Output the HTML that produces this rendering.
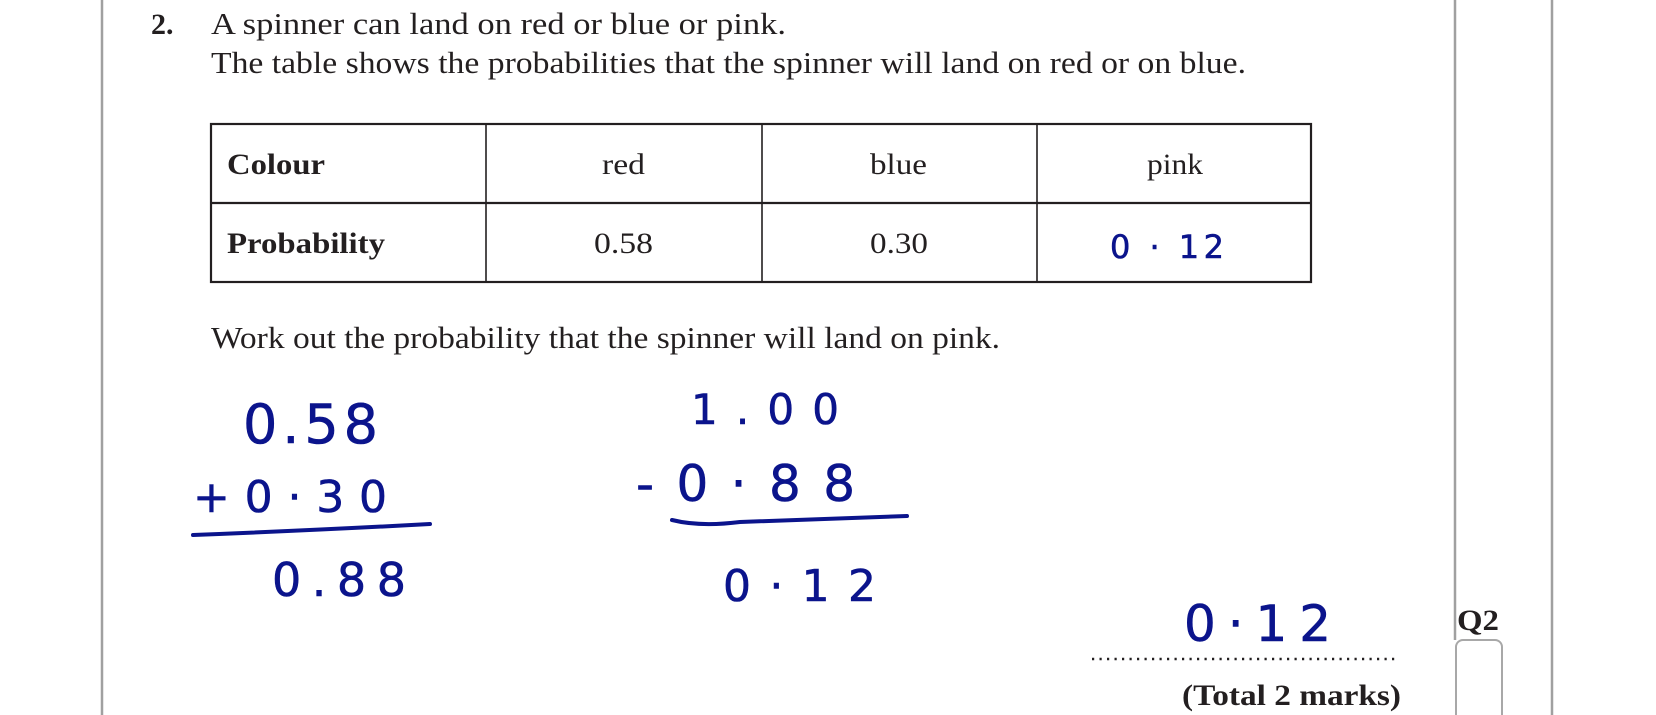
<!DOCTYPE html>
<html><head><meta charset="utf-8"><style>
html,body{margin:0;padding:0;background:#fff;}
svg{display:block;}
.t{font-family:"Liberation Serif",serif;fill:#231f20;}
.b{font-weight:bold;}
.h{font-family:"DejaVu Sans",sans-serif;fill:#0b148c;stroke:#0b148c;stroke-width:0.6;}
</style></head><body>
<svg width="1656" height="715" viewBox="0 0 1656 715" xmlns="http://www.w3.org/2000/svg">
<line x1="102" y1="0" x2="102" y2="715" stroke="#a0a0a0" stroke-width="2.5"/>
<line x1="1455" y1="0" x2="1455" y2="640" stroke="#a0a0a0" stroke-width="2.5"/>
<line x1="1552" y1="0" x2="1552" y2="715" stroke="#a0a0a0" stroke-width="2.5"/>
<rect x="1456" y="640" width="46" height="90" rx="7" fill="none" stroke="#a8a8a8" stroke-width="2"/>

<text class="t b" x="151" y="34" font-size="30">2.</text>
<text class="t" x="211" y="34" font-size="31" textLength="575" lengthAdjust="spacingAndGlyphs">A spinner can land on red or blue or pink.</text>
<text class="t" x="211" y="73" font-size="31" textLength="1035" lengthAdjust="spacingAndGlyphs">The table shows the probabilities that the spinner will land on red or on blue.</text>

<g stroke="#231f20" stroke-width="2.2" fill="none">
<rect x="211" y="124" width="1100" height="158"/>
<line x1="211" y1="203" x2="1311" y2="203"/>
<line x1="486" y1="124" x2="486" y2="282" stroke-width="1.6"/>
<line x1="762" y1="124" x2="762" y2="282" stroke-width="1.6"/>
<line x1="1037" y1="124" x2="1037" y2="282" stroke-width="1.6"/>
</g>
<text class="t b" x="227" y="174" font-size="30" textLength="98" lengthAdjust="spacingAndGlyphs">Colour</text>
<text class="t b" x="227" y="253" font-size="30" textLength="158" lengthAdjust="spacingAndGlyphs">Probability</text>
<text class="t" x="602" y="174" font-size="30" textLength="43" lengthAdjust="spacingAndGlyphs">red</text>
<text class="t" x="870" y="174" font-size="30" textLength="57" lengthAdjust="spacingAndGlyphs">blue</text>
<text class="t" x="1147" y="174" font-size="30" textLength="56" lengthAdjust="spacingAndGlyphs">pink</text>
<text class="t" x="594" y="253" font-size="30" textLength="59" lengthAdjust="spacingAndGlyphs">0.58</text>
<text class="t" x="870" y="253" font-size="30" textLength="58" lengthAdjust="spacingAndGlyphs">0.30</text>
<text class="h" x="1110" y="258" font-size="32" textLength="114" lengthAdjust="spacing">0 · 12</text>

<text class="t" x="211" y="348" font-size="31" textLength="789" lengthAdjust="spacingAndGlyphs">Work out the probability that the spinner will land on pink.</text>

<text class="h" x="243" y="443" font-size="54" textLength="135" lengthAdjust="spacing">0.58</text>
<text class="h" x="193" y="512" font-size="44" textLength="194" lengthAdjust="spacing">+0·30</text>
<path d="M193 535 Q320 530 430 524" stroke="#0b148c" stroke-width="4" fill="none" stroke-linecap="round"/>
<text class="h" x="272" y="596" font-size="46" textLength="134" lengthAdjust="spacing">0.88</text>

<text class="h" x="691" y="424" font-size="42" textLength="148" lengthAdjust="spacing">1.00</text>
<text class="h" x="636" y="501" font-size="50" textLength="219" lengthAdjust="spacing">-0·88</text>
<path d="M672 520 Q700 527 740 522 L907 516" stroke="#0b148c" stroke-width="4" fill="none" stroke-linecap="round"/>
<text class="h" x="723" y="601" font-size="44" textLength="153" lengthAdjust="spacing">0·12</text>

<text class="h" x="1184" y="641" font-size="50" textLength="147" lengthAdjust="spacing">0·12</text>
<line x1="1092" y1="659" x2="1398" y2="659" stroke="#231f20" stroke-width="2.5" stroke-dasharray="2.2 5.3"/>
<text class="t b" x="1182" y="705" font-size="30" textLength="219" lengthAdjust="spacingAndGlyphs">(Total 2 marks)</text>
<text class="t b" x="1457" y="630" font-size="30" textLength="42" lengthAdjust="spacingAndGlyphs">Q2</text>
</svg>
</body></html>
